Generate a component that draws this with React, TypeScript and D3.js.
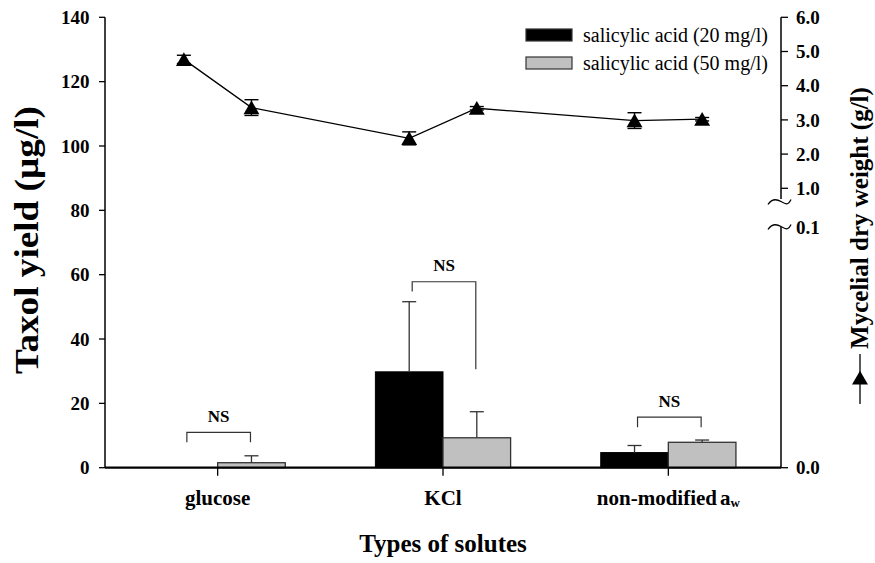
import React from "react";
import * as d3 from "d3";

const categories = ["glucose", "KCl", "non-modified"];
const sa20 = [0, 29.8, 4.7];
const sa20Err = [0, 21.8, 2.2];
const sa50 = [1.55, 9.3, 7.9];
const sa50Err = [2.15, 8.1, 0.7];
const dry20 = [4.77, 2.46, 2.98];
const dry20Err = [0.12, 0.19, 0.23];
const dry50 = [3.36, 3.34, 3.02];
const dry50Err = [0.23, 0.05, 0.05];
const nsTop = [11, 57.8, 15.7];
const nsLeftEnd = [7.9, 54.8, 12.6];
const nsRightEnd = [7.9, 30.6, 12.6];
const leftTicks = [0, 20, 40, 60, 80, 100, 120, 140];
const rightUpperTicks = [6, 5, 4, 3, 2, 1];
const rightLowerTicks = [0.1, 0];
const seriesNames = ["salicylic acid (20 mg/l)", "salicylic acid (50 mg/l)"];

const W = 875, H = 563;
const L = 105, R = 781, T = 17.3, B = 467.7;
const FONT = "'Liberation Serif', 'Times New Roman', serif";

export default function App() {
  const x = d3.scaleBand().domain(categories).range([L, R]).padding(0);
  const bw = x.bandwidth() * 0.3;
  const y = d3.scaleLinear().domain([0, 140]).range([B, T]);
  const yUp = d3.scaleLinear().domain([1, 6]).range([188.3, T]);
  const yLow = d3.scaleLinear().domain([0, 0.1]).range([B, 227]);
  const cx = (c: string) => (x(c) as number) + x.bandwidth() / 2;

  const linePts: { x: number; v: number; e: number }[] = [];
  categories.forEach((c, i) => {
    linePts.push({ x: cx(c) - bw / 2, v: dry20[i], e: dry20Err[i] });
    linePts.push({ x: cx(c) + bw / 2, v: dry50[i], e: dry50Err[i] });
  });
  const line = d3.line<{ x: number; v: number }>().x(d => d.x).y(d => yUp(d.v));
  const tri = d3.symbol(d3.symbolTriangle, 110)();
  const cap = 7;

  const squiggle = (yy: number) =>
    `M ${R - 13} ${yy + 3} C ${R - 9} ${yy - 3}, ${R - 5} ${yy - 3}, ${R} ${yy} S ${R + 7} ${yy + 4}, ${R + 10} ${yy - 2}`;

  return (
    <svg width={W} height={H} style={{ position: "absolute", left: 0, top: 0, background: "#fff" }} fontFamily={FONT}>
      {/* bars */}
      {categories.map((c, i) => (
        <g key={c}>
          <rect x={cx(c) - bw} y={y(sa20[i])} width={bw} height={B - y(sa20[i])} fill="#000" stroke="#000" strokeWidth={1} />
          <rect x={cx(c)} y={y(sa50[i])} width={bw} height={B - y(sa50[i])} fill="#c0c0c0" stroke="#333" strokeWidth={1.3} />
          {sa20[i] > 0 && (
            <g stroke="#333" strokeWidth={1.3}>
              <line x1={cx(c) - bw / 2} x2={cx(c) - bw / 2} y1={y(sa20[i])} y2={y(sa20[i] + sa20Err[i])} />
              <line x1={cx(c) - bw / 2 - cap} x2={cx(c) - bw / 2 + cap} y1={y(sa20[i] + sa20Err[i])} y2={y(sa20[i] + sa20Err[i])} />
            </g>
          )}
          <g stroke="#333" strokeWidth={1.3}>
            <line x1={cx(c) + bw / 2} x2={cx(c) + bw / 2} y1={y(sa50[i])} y2={y(sa50[i] + sa50Err[i])} />
            <line x1={cx(c) + bw / 2 - cap} x2={cx(c) + bw / 2 + cap} y1={y(sa50[i] + sa50Err[i])} y2={y(sa50[i] + sa50Err[i])} />
          </g>
          {/* NS bracket */}
          <path
            d={`M ${cx(c) - bw / 2 + 3} ${y(nsLeftEnd[i])} V ${y(nsTop[i])} H ${cx(c) + bw / 2 - 1} V ${y(nsRightEnd[i])}`}
            fill="none" stroke="#333" strokeWidth={1.2}
          />
          <text x={cx(c) + 1} y={y(nsTop[i]) - 10.5} textAnchor="middle" fontWeight="bold" fontSize={17}>NS</text>
        </g>
      ))}

      {/* line series */}
      <path d={line(linePts) as string} fill="none" stroke="#000" strokeWidth={1.3} />
      {linePts.map((p, i) => (
        <g key={i}>
          <g stroke="#000" strokeWidth={1.4}>
            <line x1={p.x} x2={p.x} y1={yUp(p.v - p.e)} y2={yUp(p.v + p.e)} />
            <line x1={p.x - cap} x2={p.x + cap} y1={yUp(p.v - p.e)} y2={yUp(p.v - p.e)} />
            <line x1={p.x - cap} x2={p.x + cap} y1={yUp(p.v + p.e)} y2={yUp(p.v + p.e)} />
          </g>
          <path d={tri as string} transform={`translate(${p.x},${yUp(p.v) + 2})`} fill="#000" />
        </g>
      ))}

      {/* left axis */}
      <line x1={L} x2={L} y1={T} y2={B} stroke="#000" strokeWidth={1.5} />
      {leftTicks.map(t => (
        <g key={t}>
          <line x1={L - 6} x2={L} y1={y(t)} y2={y(t)} stroke="#000" strokeWidth={1.3} />
          <text x={89.5} y={y(t)} dy="0.35em" textAnchor="end" fontWeight="bold" fontSize={19}>{t}</text>
        </g>
      ))}
      <text transform={`translate(38,${240}) rotate(-90)`} textAnchor="middle" fontWeight="bold" fontSize={33}
        textLength={268} lengthAdjust="spacingAndGlyphs">Taxol yield (µg/l)</text>

      {/* right axis */}
      <line x1={R} x2={R} y1={T} y2={199} stroke="#000" strokeWidth={1.5} />
      <line x1={R} x2={R} y1={227} y2={B} stroke="#000" strokeWidth={1.5} />
      <path d={squiggle(201.5)} fill="none" stroke="#000" strokeWidth={1.3} />
      <path d={squiggle(226.5)} fill="none" stroke="#000" strokeWidth={1.3} />
      {rightUpperTicks.map(t => (
        <g key={t}>
          <line x1={R} x2={R + 7} y1={yUp(t)} y2={yUp(t)} stroke="#000" strokeWidth={1.3} />
          <text x={796} y={yUp(t)} dy="0.35em" fontWeight="bold" fontSize={19}>{t.toFixed(1)}</text>
        </g>
      ))}
      {rightLowerTicks.map(t => (
        <g key={t}>
          {t === 0 && <line x1={R} x2={R + 7} y1={yLow(t)} y2={yLow(t)} stroke="#000" strokeWidth={1.3} />}
          <text x={796} y={yLow(t)} dy="0.35em" fontWeight="bold" fontSize={19}>{t.toFixed(1)}</text>
        </g>
      ))}
      <text transform={`translate(868,${218}) rotate(-90)`} textAnchor="middle" fontWeight="bold" fontSize={25}>Mycelial dry weight (g/l)</text>
      <line x1={860} x2={860} y1={354} y2={404} stroke="#000" strokeWidth={1.3} />
      <path d={tri as string} transform={`translate(860,${380})`} fill="#000" />

      {/* x axis */}
      <line x1={L} x2={R} y1={B} y2={B} stroke="#000" strokeWidth={2.2} />
      {categories.map(c => (
        <line key={c} x1={cx(c)} x2={cx(c)} y1={B} y2={B + 8} stroke="#000" strokeWidth={1.3} />
      ))}
      {categories.map(c => (
        <text key={c} x={cx(c)} y={505} textAnchor="middle" fontWeight="bold" fontSize={21}>
          {c}
          {c === "non-modified" && (
            <>
              <tspan dx={3}>a</tspan>
              <tspan fontSize={13} dy={2}>w</tspan>
            </>
          )}
        </text>
      ))}
      <text x={(L + R) / 2} y={552} textAnchor="middle" fontWeight="bold" fontSize={25}>Types of solutes</text>

      {/* legend */}
      {seriesNames.map((s, i) => (
        <g key={s}>
          <rect x={526} y={29 + i * 28} width={46} height={12} fill={i === 0 ? "#000" : "#c0c0c0"} stroke="#333" strokeWidth={1.2} />
          <text x={583} y={35 + i * 28} dy="0.35em" fontSize={20}>{s}</text>
        </g>
      ))}
    </svg>
  );
}
